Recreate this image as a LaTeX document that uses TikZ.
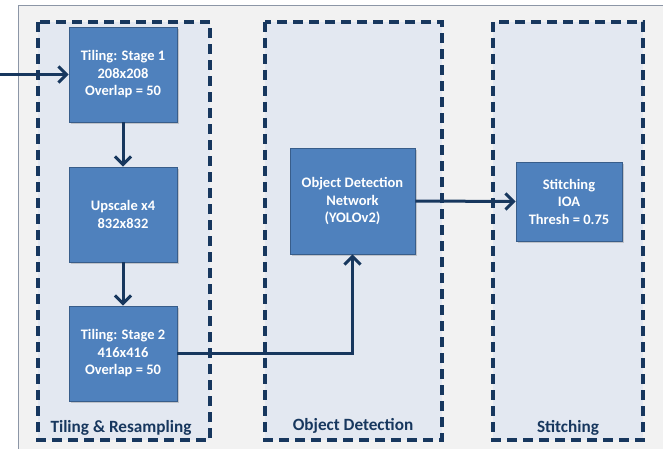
\documentclass[tikz,border=0pt]{standalone}
\usepackage{fontspec}
\setmainfont{Carlito}
\usetikzlibrary{arrows.meta,shadows}

\definecolor{panelgray}{HTML}{F2F2F2}
\definecolor{panelline}{HTML}{8C96A6}
\definecolor{zonefill}{HTML}{E3E8F1}
\definecolor{navy}{HTML}{17375E}
\definecolor{stepblue}{HTML}{4F81BD}
\definecolor{stepline}{HTML}{385D8A}

\begin{document}
\begin{tikzpicture}[x=1pt, y=-1pt,
    zone/.style={fill=zonefill, draw=navy, line width=3.2pt, dash pattern=on 10pt off 6pt},
    stepbox/.style={rectangle, fill=stepblue, draw=stepline, line width=0.8pt,
      text=white, font=\bfseries\fontsize{14.5}{17.5}\selectfont, align=center,
      drop shadow={shadow xshift=2pt, shadow yshift=-2pt, opacity=0.35}},
    zonelabel/.style={text=navy, font=\bfseries\fontsize{17.2}{20}\selectfont},
    link/.style={draw=navy, line width=3pt, -{Straight Barb[length=8pt,width=16pt]}}]
  \useasboundingbox (0,0) rectangle (663,449);
  % background panel
  \fill[white] (0,0) rectangle (663,449);
  \draw[fill=panelgray, draw=panelline, line width=0.8pt] (18,5) rectangle (680,460);
  % zones
  \draw[zone] (38,22) rectangle (210,440);
  \draw[zone] (265,22) rectangle (442,440);
  \draw[zone] (493,22) rectangle (643,440);
  \node[zonelabel] (lbltile) at (121,428) {Tiling \& Resampling};
  \node[zonelabel] (lbldet) at (353,426) {Object Detection};
  \node[zonelabel] (lblstitch) at (568,428) {Stitching};
  % blocks
  \node[stepbox, minimum width=108pt, minimum height=95pt] (tile1) at (123,74.5)
    {Tiling: Stage 1\\208x208\\Overlap = 50};
  \node[stepbox, minimum width=108pt, minimum height=95pt] (upscale) at (123,214.5)
    {Upscale x4\\832x832};
  \node[stepbox, minimum width=108pt, minimum height=95pt] (tile2) at (123,353.5)
    {Tiling: Stage 2\\416x416\\Overlap = 50};
  \node[stepbox, minimum width=125pt, minimum height=106pt] (detect) at (352.5,201)
    {Object Detection\\Network\\(YOLOv2)};
  \node[stepbox, minimum width=106pt, minimum height=79pt] (stitch) at (569,201.5)
    {Stitching\\IOA\\Thresh = 0.75};
  % connectors
  \coordinate (input) at (0,74.5);
  \draw[link] (input) -- (tile1.west);
  \draw[link] (tile1) -- (upscale);
  \draw[link] (upscale) -- (tile2);
  \draw[link] (tile2.east) -| (detect.south);
  \draw[link] (detect.east) -- (stitch.west);
\end{tikzpicture}
\end{document}
